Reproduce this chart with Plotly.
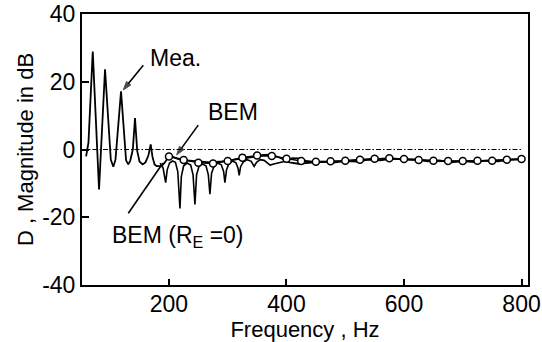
import plotly.graph_objects as go

# ---- data ----
mea_f = [59, 63, 70.3, 81, 91.2, 101, 105.3, 109, 118.4, 127, 130.8, 134, 138.5, 142.2, 146, 150, 155.3,
         160, 165, 168.9, 172, 175.5, 179, 187.6, 193, 198.3, 205, 215, 230, 250, 270, 290, 310, 330,
         345, 360, 375, 390, 405, 420, 440, 460, 480, 500, 520, 540, 560, 580, 600, 620, 640, 660,
         680, 700, 720, 740, 760, 780, 800]
mea_db = [-2.0, 2.0, 28.9, -11.8, 23.7, -3.0, -5.1, -3.0, 17.2, -3.2, -4.4, -3.4, 0.0, 9.3, -0.5, -3.6, -4.4,
          -3.8, -1.8, 1.5, -2.2, -4.4, -4.9, -4.9, -3.8, -2.4, -2.0, -2.8, -3.2, -3.6, -3.8, -3.5, -3.0, -2.6,
          -2.2, -1.6, -1.5, -2.5, -3.8, -4.2, -4.0, -3.6, -3.9, -3.4, -3.6, -3.0, -3.2, -2.7, -3.0, -2.9, -3.5, -3.2,
          -3.8, -3.4, -3.7, -3.3, -3.5, -3.0, -2.9]

bem_f = [200, 225, 250, 275, 300, 325, 350, 375, 400, 425, 450, 475, 500, 525, 550, 575, 600,
         625, 650, 675, 700, 725, 750, 775, 800]
bem_db = [-2.1, -3.1, -3.9, -4.1, -3.4, -2.4, -1.8, -1.9, -2.7, -3.4, -3.6, -3.5, -3.3, -3.0, -2.7,
          -2.6, -2.8, -3.1, -3.3, -3.4, -3.4, -3.3, -3.3, -3.0, -2.8]

bem0_f = [185, 190, 194.4, 197, 201, 206, 211, 215, 218.7, 221, 225, 231, 237, 241, 244.2, 247, 251,
          257, 263, 267, 269.7, 272.5, 277, 283, 289, 293, 295.2, 298, 302, 308, 314, 317.5, 319.5,
          322, 327, 333, 340, 345, 349, 355, 362, 368, 372, 380, 390, 400, 410, 420, 435, 450, 475,
          500, 525, 550, 575, 600, 625, 650, 675, 700, 725, 750, 775, 800]
bem0_db = [-4.0, -5.5, -9.8, -6.0, -4.0, -3.4, -3.8, -6.5, -17.4, -8.0, -4.8, -4.0, -4.6, -7.5, -16.2, -7.5, -5.0,
           -4.3, -4.8, -7.5, -13.2, -7.0, -4.8, -4.0, -4.5, -6.5, -9.8, -6.0, -4.2, -3.4, -3.9, -5.5, -7.6,
           -5.0, -3.6, -3.0, -3.5, -5.0, -3.8, -3.0, -3.2, -4.0, -4.6, -4.2, -3.8, -3.4, -2.5, -2.6, -3.4, -3.8, -3.6,
           -3.3, -3.1, -2.8, -2.7, -2.9, -3.2, -3.4, -3.5, -3.5, -3.4, -3.3, -3.1, -2.9]

zero_f = [52, 800]
zero_db = [0, 0]

# pointer lines: [tail, head]
mea_ptr_f, mea_ptr_db = [156.3, 122.3], [24.9, 17.6]
bem_ptr_f, bem_ptr_db = [249.8, 213.1], [7.2, -1.6]
bem0_ptr_f, bem0_ptr_db = [130.8, 189.8], [-18.8, -4.0]

x_ticks = [200, 400, 600, 800]
x_ticktext = ["200", "400", "600", "800"]
y_ticks = [-40, -20, 0, 20, 40]
y_ticktext = ["-40", "-20", "0", "20", "40"]

FONT = "Liberation Sans, Arial, sans-serif"
FS_TICK = 23
FS_TITLE = 22
FS_ANN = 23

fig = go.Figure()
fig.add_trace(go.Scatter(x=zero_f, y=zero_db, mode="lines",
                         line=dict(color="black", width=1.2, dash="5px,2px,1.5px,2px")))
fig.add_trace(go.Scatter(x=mea_f, y=mea_db, mode="lines", line=dict(color="black", width=1.8)))
fig.add_trace(go.Scatter(x=bem0_f, y=bem0_db, mode="lines", line=dict(color="black", width=1.6)))
fig.add_trace(go.Scatter(x=bem_f, y=bem_db, mode="lines+markers", line=dict(color="black", width=1.6),
                         marker=dict(symbol="circle", size=7, color="white",
                                     line=dict(color="black", width=1.5))))
# pointer arrows drawn as traces (head = oriented arrow marker on the last point)
for pf, pdb in [(mea_ptr_f, mea_ptr_db), (bem_ptr_f, bem_ptr_db)]:
    fig.add_trace(go.Scatter(x=pf, y=pdb, mode="lines+markers", line=dict(color="black", width=1.6),
                             marker=dict(symbol="arrow", size=[0, 9], angleref="previous",
                                         color="black", line=dict(width=1, color="black"))))
fig.add_trace(go.Scatter(x=bem0_ptr_f, y=bem0_ptr_db, mode="lines", line=dict(color="black", width=1.6)))

ann = []
ann.append(dict(x=164.8, y=27, xref="x", yref="y", text="Mea.", showarrow=False, xanchor="left",
                font=dict(family=FONT, size=FS_ANN, color="black")))
ann.append(dict(x=262.4, y=11.2, xref="x", yref="y", text="BEM", showarrow=False, xanchor="left",
                font=dict(family=FONT, size=FS_ANN, color="black")))
ann.append(dict(x=99.7, y=-25.7, xref="x", yref="y", text="BEM (R<sub>E</sub> =0)", showarrow=False,
                xanchor="left", font=dict(family=FONT, size=FS_ANN, color="black")))

fig.update_layout(
    width=542, height=342,
    margin=dict(l=82, r=14, t=14, b=57),
    paper_bgcolor="white", plot_bgcolor="white",
    showlegend=False,
    annotations=ann,
    font=dict(family=FONT, size=FS_TICK, color="black"),
)
fig.update_xaxes(range=[52, 811], tickvals=x_ticks, ticktext=x_ticktext, ticks="inside", ticklen=6,
                 tickwidth=1.5, tickcolor="black", showline=True, linecolor="black", linewidth=2,
                 mirror=True, showgrid=False, zeroline=False, automargin=False, ticklabelstandoff=-3,
                 title=dict(text="Frequency , Hz", standoff=4, font=dict(family=FONT, size=FS_TITLE)),
                 tickfont=dict(family=FONT, size=FS_TICK))
fig.update_yaxes(range=[-40, 40], tickvals=y_ticks, ticktext=y_ticktext, ticks="inside", ticklen=7,
                 tickwidth=1.5, tickcolor="black", showline=True, linecolor="black", linewidth=2,
                 mirror=True, showgrid=False, zeroline=False, automargin=False,
                 title=dict(text="D , Magnitude in dB", standoff=2, font=dict(family=FONT, size=FS_TITLE)),
                 tickfont=dict(family=FONT, size=FS_TICK))

fig.write_html("out.html")
